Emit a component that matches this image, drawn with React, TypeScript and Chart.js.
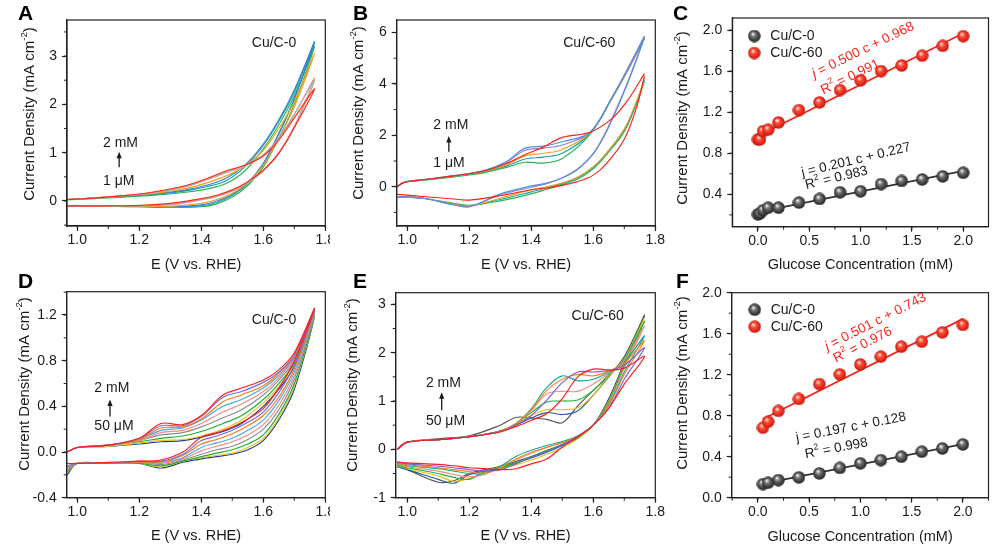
import React, { useEffect, useRef } from "react";
import { Chart, registerables } from "chart.js";
Chart.register(...registerables);

const FONT = '"Liberation Sans", Arial, Helvetica, sans-serif';
const INK = "#1a1a1a";

// ---------------- Panel A (Cu/C-0, 1 µM – 2 mM) ----------------
const A_E_FWD = [0.967, 1.05, 1.15, 1.25, 1.35, 1.42, 1.48, 1.54, 1.6, 1.65, 1.7, 1.765];
const A_E_REV = [1.765, 1.7, 1.65, 1.6, 1.55, 1.5, 1.45, 1.4, 1.3, 1.2, 1.1, 0.967];
const A_J_FWD = [
  [0.02, 0.05, 0.08, 0.12, 0.18, 0.25, 0.36, 0.62, 1.08, 1.58, 2.18, 3.2],
  [0.03, 0.06, 0.09, 0.14, 0.21, 0.3, 0.42, 0.7, 1.15, 1.65, 2.25, 3.3],
  [0.03, 0.06, 0.1, 0.15, 0.23, 0.33, 0.47, 0.74, 1.18, 1.68, 2.3, 3.28],
  [0.03, 0.06, 0.1, 0.16, 0.26, 0.38, 0.52, 0.72, 1.05, 1.5, 2.05, 3.05],
  [0.03, 0.06, 0.11, 0.18, 0.3, 0.44, 0.58, 0.72, 0.95, 1.28, 1.78, 2.55],
  [0.03, 0.06, 0.11, 0.18, 0.3, 0.45, 0.6, 0.74, 0.96, 1.3, 1.8, 2.5],
  [0.03, 0.06, 0.11, 0.19, 0.32, 0.47, 0.62, 0.74, 0.93, 1.26, 1.72, 2.32],
];
const A_J_REV = [
  [3.2, 2.0, 1.3, 0.7, 0.32, 0.08, -0.06, -0.12, -0.13, -0.12, -0.11, -0.1],
  [3.3, 2.1, 1.38, 0.76, 0.36, 0.12, -0.03, -0.1, -0.12, -0.12, -0.11, -0.1],
  [3.28, 2.12, 1.4, 0.78, 0.38, 0.14, 0.0, -0.08, -0.12, -0.11, -0.1, -0.1],
  [3.05, 1.95, 1.3, 0.74, 0.38, 0.16, 0.03, -0.05, -0.11, -0.11, -0.1, -0.1],
  [2.55, 1.55, 1.0, 0.62, 0.38, 0.2, 0.09, 0.02, -0.08, -0.1, -0.1, -0.1],
  [2.5, 1.52, 0.98, 0.62, 0.38, 0.21, 0.1, 0.03, -0.07, -0.1, -0.1, -0.1],
  [2.32, 1.52, 0.99, 0.64, 0.4, 0.23, 0.12, 0.05, -0.05, -0.09, -0.1, -0.1],
];

// ---------------- Panel B (Cu/C-60, 1 µM – 2 mM) ----------------
const B_E_FWD = [0.967, 0.99, 1.05, 1.15, 1.25, 1.32, 1.38, 1.44, 1.5, 1.59, 1.66, 1.71, 1.765];
const B_E_REV = [1.765, 1.74, 1.7, 1.643, 1.6, 1.55, 1.5, 1.45, 1.4, 1.3, 1.2, 1.15, 1.05, 0.967];
const B_J_FWD = [
  [0.0, 0.17, 0.25, 0.38, 0.55, 0.75, 0.95, 0.92, 1.1, 2.05, 3.42, 4.5, 5.8],
  [0.0, 0.17, 0.26, 0.4, 0.58, 0.8, 1.08, 1.15, 1.3, 2.08, 3.45, 4.55, 5.85],
  [0.0, 0.17, 0.26, 0.41, 0.6, 0.85, 1.2, 1.3, 1.45, 2.1, 3.45, 4.5, 5.75],
  [0.0, 0.17, 0.27, 0.43, 0.63, 0.95, 1.42, 1.5, 1.62, 2.12, 3.48, 4.58, 5.85],
  [0.0, 0.17, 0.27, 0.43, 0.64, 0.98, 1.5, 1.58, 1.75, 2.12, 3.45, 4.52, 5.8],
  [0.0, 0.17, 0.27, 0.42, 0.62, 0.9, 1.25, 1.55, 1.92, 2.12, 2.65, 3.35, 4.4],
];
const B_J_REV = [
  [4.1, 3.25, 2.15, 1.25, 0.7, 0.3, 0.08, -0.1, -0.28, -0.55, -0.72, -0.65, -0.45, -0.4],
  [4.15, 3.3, 2.2, 1.3, 0.75, 0.35, 0.12, -0.05, -0.2, -0.5, -0.75, -0.68, -0.45, -0.4],
  [4.2, 3.35, 2.25, 1.32, 0.78, 0.38, 0.15, 0.0, -0.12, -0.45, -0.76, -0.68, -0.45, -0.38],
  [5.85, 5.0, 3.75, 2.2, 1.3, 0.7, 0.35, 0.12, -0.02, -0.32, -0.78, -0.7, -0.45, -0.38],
  [5.8, 4.95, 3.7, 2.15, 1.28, 0.68, 0.34, 0.14, 0.03, -0.28, -0.78, -0.7, -0.45, -0.38],
  [4.3, 3.1, 1.85, 0.91, 0.45, 0.2, 0.05, -0.05, -0.12, -0.35, -0.52, -0.48, -0.38, -0.3],
];

// ---------------- Panel C (calibration, 1 µM – 2 mM) ----------------
const C_CONC = [0, 0.02, 0.05, 0.1, 0.2, 0.4, 0.6, 0.8, 1.0, 1.2, 1.4, 1.6, 1.8, 2.0];
const C_CU0 = [0.205, 0.215, 0.245, 0.27, 0.27, 0.32, 0.355, 0.42, 0.43, 0.5, 0.53, 0.545, 0.575, 0.61];
const C_CU60 = [0.935, 0.935, 1.015, 1.03, 1.1, 1.22, 1.295, 1.415, 1.51, 1.6, 1.655, 1.75, 1.845, 1.94];
const C_FIT_X = [0, 2.0];
const C_FIT_CU0 = [0.227, 0.629];
const C_FIT_CU60 = [0.968, 1.968];

// ---------------- Panel D (Cu/C-0, 50 µM – 2 mM) ----------------
const D_E_FWD = [0.967, 1.0, 1.1, 1.2, 1.27, 1.34, 1.4, 1.47, 1.53, 1.6, 1.65, 1.7, 1.765];
const D_E_REV = [1.765, 1.7, 1.65, 1.6, 1.55, 1.5, 1.45, 1.4, 1.34, 1.27, 1.2, 1.1, 1.0, 0.967];
const D_J_FWD = [
  [0.0, 0.04, 0.05, 0.07, 0.09, 0.1, 0.13, 0.18, 0.25, 0.4, 0.55, 0.75, 1.2],
  [0.0, 0.04, 0.05, 0.08, 0.1, 0.11, 0.14, 0.2, 0.28, 0.43, 0.57, 0.77, 1.21],
  [0.0, 0.04, 0.06, 0.09, 0.12, 0.14, 0.18, 0.25, 0.32, 0.46, 0.6, 0.78, 1.21],
  [0.0, 0.04, 0.06, 0.1, 0.15, 0.17, 0.22, 0.3, 0.37, 0.5, 0.63, 0.8, 1.22],
  [0.0, 0.04, 0.06, 0.1, 0.17, 0.19, 0.25, 0.35, 0.42, 0.53, 0.65, 0.82, 1.23],
  [0.0, 0.04, 0.06, 0.11, 0.19, 0.21, 0.28, 0.4, 0.46, 0.56, 0.67, 0.83, 1.23],
  [0.0, 0.04, 0.06, 0.11, 0.21, 0.22, 0.29, 0.44, 0.5, 0.58, 0.69, 0.84, 1.24],
  [0.0, 0.04, 0.06, 0.12, 0.23, 0.23, 0.31, 0.48, 0.53, 0.61, 0.7, 0.85, 1.25],
  [0.0, 0.04, 0.06, 0.12, 0.25, 0.24, 0.32, 0.5, 0.56, 0.63, 0.72, 0.87, 1.26],
];
const D_J_REV = [
  [1.2, 0.55, 0.28, 0.1, 0.02, -0.02, -0.04, -0.06, -0.09, -0.14, -0.1, -0.1, -0.1, -0.2],
  [1.21, 0.58, 0.3, 0.12, 0.04, -0.01, -0.03, -0.05, -0.08, -0.13, -0.1, -0.1, -0.1, -0.18],
  [1.21, 0.6, 0.33, 0.15, 0.07, 0.02, -0.01, -0.04, -0.08, -0.12, -0.1, -0.1, -0.1, -0.17],
  [1.22, 0.64, 0.37, 0.2, 0.11, 0.05, 0.02, -0.02, -0.07, -0.11, -0.09, -0.1, -0.1, -0.16],
  [1.23, 0.67, 0.41, 0.24, 0.15, 0.09, 0.05, 0.01, -0.06, -0.1, -0.09, -0.1, -0.1, -0.15],
  [1.23, 0.7, 0.45, 0.28, 0.19, 0.12, 0.08, 0.04, -0.05, -0.09, -0.09, -0.1, -0.1, -0.14],
  [1.24, 0.73, 0.48, 0.32, 0.23, 0.16, 0.11, 0.07, -0.03, -0.09, -0.09, -0.1, -0.1, -0.13],
  [1.25, 0.76, 0.52, 0.35, 0.26, 0.19, 0.14, 0.1, -0.02, -0.08, -0.08, -0.1, -0.1, -0.12],
  [1.26, 0.8, 0.56, 0.38, 0.29, 0.22, 0.17, 0.13, 0.0, -0.07, -0.08, -0.09, -0.1, -0.1],
];

// ---------------- Panel E (Cu/C-60, 50 µM – 2 mM) ----------------
const E_E_FWD = [0.967, 1.0, 1.1, 1.2, 1.3, 1.35, 1.4, 1.45, 1.5, 1.55, 1.6, 1.65, 1.7, 1.765];
const E_E_REV = [1.765, 1.7, 1.65, 1.6, 1.55, 1.5, 1.45, 1.4, 1.35, 1.3, 1.25, 1.2, 1.15, 1.1, 1.0, 0.967];
const E_J_FWD = [
  [0.0, 0.15, 0.22, 0.28, 0.5, 0.66, 0.65, 0.62, 0.55, 0.9, 1.22, 1.52, 1.92, 2.78],
  [0.0, 0.15, 0.2, 0.26, 0.38, 0.5, 0.65, 0.76, 0.72, 0.8, 1.12, 1.5, 1.9, 2.75],
  [0.0, 0.15, 0.2, 0.26, 0.38, 0.52, 0.7, 0.82, 0.82, 0.86, 1.12, 1.52, 1.88, 2.72],
  [0.0, 0.15, 0.2, 0.26, 0.38, 0.53, 0.76, 0.98, 1.0, 1.02, 1.22, 1.55, 1.86, 2.65],
  [0.0, 0.15, 0.2, 0.26, 0.38, 0.53, 0.8, 1.15, 1.2, 1.2, 1.35, 1.58, 1.84, 2.55],
  [0.0, 0.15, 0.2, 0.26, 0.38, 0.53, 0.84, 1.28, 1.52, 1.42, 1.45, 1.6, 1.8, 2.35],
  [0.0, 0.15, 0.2, 0.26, 0.38, 0.53, 0.82, 1.22, 1.45, 1.55, 1.52, 1.62, 1.78, 2.25],
  [0.0, 0.15, 0.2, 0.26, 0.37, 0.5, 0.7, 1.02, 1.38, 1.6, 1.6, 1.63, 1.74, 2.1],
  [0.0, 0.15, 0.2, 0.26, 0.36, 0.47, 0.6, 0.74, 1.05, 1.5, 1.66, 1.64, 1.68, 1.92],
];
const E_J_REV = [
  [2.78, 1.8, 1.05, 0.5, 0.25, 0.1, -0.03, -0.15, -0.25, -0.35, -0.42, -0.5, -0.65, -0.68, -0.42, -0.35],
  [2.75, 1.78, 1.03, 0.5, 0.24, 0.08, -0.06, -0.18, -0.28, -0.38, -0.45, -0.52, -0.7, -0.62, -0.42, -0.36],
  [2.72, 1.75, 1.0, 0.5, 0.22, 0.04, -0.1, -0.22, -0.32, -0.4, -0.48, -0.6, -0.66, -0.55, -0.4, -0.34],
  [2.65, 1.72, 0.98, 0.5, 0.24, 0.1, -0.02, -0.15, -0.28, -0.38, -0.46, -0.62, -0.58, -0.5, -0.38, -0.32],
  [2.55, 1.68, 0.95, 0.5, 0.26, 0.14, 0.04, -0.08, -0.22, -0.35, -0.52, -0.57, -0.52, -0.45, -0.36, -0.3],
  [2.35, 1.6, 0.92, 0.5, 0.28, 0.16, 0.08, -0.02, -0.15, -0.35, -0.5, -0.5, -0.45, -0.4, -0.34, -0.29],
  [2.25, 1.55, 0.9, 0.5, 0.27, 0.14, 0.04, -0.06, -0.2, -0.38, -0.5, -0.46, -0.42, -0.38, -0.32, -0.28],
  [2.1, 1.45, 0.85, 0.5, 0.27, 0.1, -0.04, -0.16, -0.3, -0.42, -0.45, -0.42, -0.38, -0.35, -0.3, -0.27],
  [1.92, 1.35, 0.85, 0.5, 0.26, 0.05, -0.2, -0.3, -0.4, -0.42, -0.4, -0.38, -0.34, -0.31, -0.28, -0.26],
];

// ---------------- Panel F (calibration, 50 µM – 2 mM) ----------------
const F_CONC = [0.05, 0.1, 0.2, 0.4, 0.6, 0.8, 1.0, 1.2, 1.4, 1.6, 1.8, 2.0];
const F_CU0 = [0.133, 0.146, 0.172, 0.198, 0.237, 0.29, 0.335, 0.367, 0.4, 0.449, 0.48, 0.52];
const F_CU60 = [0.683, 0.741, 0.846, 0.963, 1.109, 1.203, 1.3, 1.376, 1.473, 1.522, 1.613, 1.685];
const F_FIT_X = [0.05, 2.0];
const F_FIT_CU0 = [0.138, 0.522];
const F_FIT_CU60 = [0.768, 1.745];

// ---------------- styles ----------------
const A_COLORS = ["#2fb34c", "#14a6a6", "#3b7fd6", "#f0a020", "#f2a0a0", "#a8a8a8", "#ff2a14"];
const B_COLORS = ["#2cb54a", "#17a2b0", "#f0a020", "#8b7fd8", "#5b8fd8", "#ff2010"];
const D_COLORS = ["#1c3f94", "#e6c619", "#1fae3c", "#8c8c8c", "#f08a8a", "#4aa8e8", "#f07c18", "#7a6bd0", "#ff1e1e"];
const E_COLORS = ["#555555", "#1f5fa8", "#e3c20a", "#1fb03a", "#f08c8c", "#16a6a0", "#f28a1a", "#7b5cd6", "#ff1a1a"];
const RED = "#f3261a";
const DARK = "#333333";

type Run = { t: string; it?: boolean; sup?: boolean };

function drawRuns(ctx: CanvasRenderingContext2D, runs: Run[], cx: number, cy: number, angle: number, size: number, color: string, align: "center" | "left" = "center") {
  ctx.save();
  ctx.translate(cx, cy);
  ctx.rotate((angle * Math.PI) / 180);
  ctx.fillStyle = color;
  ctx.textBaseline = "middle";
  ctx.textAlign = "left";
  const fontFor = (r: Run) => `${r.it ? "italic " : ""}${r.sup ? size * 0.65 : size}px ${FONT}`;
  let total = 0;
  for (const r of runs) {
    ctx.font = fontFor(r);
    total += ctx.measureText(r.t).width;
  }
  let x = align === "center" ? -total / 2 : 0;
  for (const r of runs) {
    ctx.font = fontFor(r);
    ctx.fillText(r.t, x, r.sup ? -size * 0.38 : 0);
    x += ctx.measureText(r.t).width;
  }
  ctx.restore();
}

function sphere(kind: "black" | "red"): HTMLCanvasElement {
  const s = 13;
  const c = document.createElement("canvas");
  c.width = s;
  c.height = s;
  const g = c.getContext("2d")!;
  const grd = g.createRadialGradient(s * 0.38, s * 0.33, 0.4, s / 2, s / 2, s / 2);
  if (kind === "black") {
    grd.addColorStop(0, "#eeeeee");
    grd.addColorStop(0.35, "#707070");
    grd.addColorStop(1, "#1c1c1c");
  } else {
    grd.addColorStop(0, "#ffe0d8");
    grd.addColorStop(0.35, "#ff4a38");
    grd.addColorStop(1, "#c41406");
  }
  g.fillStyle = grd;
  g.beginPath();
  g.arc(s / 2, s / 2, s / 2 - 0.3, 0, Math.PI * 2);
  g.fill();
  return c;
}

type TextItem = { x: number; y: number; runs: Run[]; color?: string; size?: number; angle?: number; align?: "center" | "left" };
type Cfg = {
  left: number; top: number; w: number; h: number;
  padTop: number; padRight: number; yAxisW: number; xAxisH: number;
  xMin: number; xMax: number; xStep: number; xMinor: number; xDec: number;
  yMin: number; yMax: number; yStep: number; yMinor: number; yDec: number;
  letter: string; letterX: number; letterY: number;
  yTitle: [number, number]; xTitleY: number; xTitle: string;
  texts: TextItem[];
  arrows: { x: number; y1: number; y2: number }[];
  kind: "cv" | "cal";
  cv?: { eF: number[]; eR: number[]; jF: number[][]; jR: number[][]; colors: string[]; gap: boolean };
  cal?: { conc: number[]; cu0: number[]; cu60: number[]; fitX: number[]; fit0: number[]; fit60: number[]; leg: [number, number] };
};

const CV_X = "E (V vs. RHE)";
const CAL_X = "Glucose Concentration (mM)";

const PANELS: Cfg[] = [
  {
    left: 0, top: 0, w: 330, h: 280, padTop: 20, padRight: 4.7, yAxisW: 67, xAxisH: 54,
    xMin: 0.9668, xMax: 1.8, xStep: 0.2, xMinor: 0.1, xDec: 1,
    yMin: -0.518, yMax: 3.747, yStep: 1, yMinor: 0.5, yDec: 0,
    letter: "A", letterX: 18, letterY: 20, yTitle: [30, 114], xTitleY: 265, xTitle: CV_X,
    texts: [
      { x: 1.563, y: 3.27, runs: [{ t: "Cu/C-0" }], align: "left" },
      { x: 1.083, y: 1.2, runs: [{ t: "2 mM" }], align: "left" },
      { x: 1.083, y: 0.41, runs: [{ t: "1 μM" }], align: "left" },
    ],
    arrows: [{ x: 1.135, y1: 0.7, y2: 1.02 }],
    kind: "cv", cv: { eF: A_E_FWD, eR: A_E_REV, jF: A_J_FWD, jR: A_J_REV, colors: A_COLORS, gap: false },
  },
  {
    left: 330, top: 0, w: 340, h: 280, padTop: 20, padRight: 14.7, yAxisW: 66.7, xAxisH: 54,
    xMin: 0.9658, xMax: 1.8, xStep: 0.2, xMinor: 0.1, xDec: 1,
    yMin: -1.529, yMax: 6.486, yStep: 2, yMinor: 1, yDec: 0,
    letter: "B", letterX: 23, letterY: 20, yTitle: [29, 113], xTitleY: 265, xTitle: CV_X,
    texts: [
      { x: 1.503, y: 5.58, runs: [{ t: "Cu/C-60" }], align: "left" },
      { x: 1.084, y: 2.4, runs: [{ t: "2 mM" }], align: "left" },
      { x: 1.084, y: 0.93, runs: [{ t: "1 μM" }], align: "left" },
    ],
    arrows: [{ x: 1.134, y1: 1.36, y2: 1.97 }],
    kind: "cv", cv: { eF: B_E_FWD, eR: B_E_REV, jF: B_J_FWD, jR: B_J_REV, colors: B_COLORS, gap: true },
  },
  {
    left: 660, top: 0, w: 336, h: 280, padTop: 18, padRight: 3, yAxisW: 72.3, xAxisH: 53.3,
    xMin: -0.2495, xMax: 2.246, xStep: 0.5, xMinor: 0.25, xDec: 1,
    yMin: 0.085, yMax: 2.117, yStep: 0.4, yMinor: 0.2, yDec: 1,
    letter: "C", letterX: 13, letterY: 20, yTitle: [23, 118], xTitleY: 265, xTitle: CAL_X,
    texts: [
      { x: 1.024, y: 1.805, runs: [{ t: "j", it: true }, { t: " = 0.500 c + 0.968" }], color: RED, angle: -26, size: 13.5 },
      { x: 0.9, y: 1.542, runs: [{ t: "R" }, { t: "2", sup: true }, { t: " = 0.991" }], color: RED, angle: -26, size: 13.5 },
      { x: 0.955, y: 0.734, runs: [{ t: "j" }, { t: " = 0.201 c + 0.227" }], color: INK, angle: -13.5, size: 13.5 },
      { x: 0.765, y: 0.559, runs: [{ t: "R" }, { t: "2", sup: true }, { t: " = 0.983" }], color: INK, angle: -13.5, size: 13.5 },
    ],
    arrows: [],
    kind: "cal", cal: { conc: C_CONC, cu0: C_CU0, cu60: C_CU60, fitX: C_FIT_X, fit0: C_FIT_CU0, fit60: C_FIT_CU60, leg: [22, 18] },
  },
  {
    left: 0, top: 270, w: 330, h: 277, padTop: 21.7, padRight: 4.7, yAxisW: 66.7, xAxisH: 49.3,
    xMin: 0.9658, xMax: 1.8, xStep: 0.2, xMinor: 0.1, xDec: 1,
    yMin: -0.4, yMax: 1.404, yStep: 0.4, yMinor: 0.2, yDec: 1,
    letter: "D", letterX: 18, letterY: 18, yTitle: [25, 114], xTitleY: 266, xTitle: CV_X,
    texts: [
      { x: 1.563, y: 1.156, runs: [{ t: "Cu/C-0" }], align: "left" },
      { x: 1.055, y: 0.558, runs: [{ t: "2 mM" }], align: "left" },
      { x: 1.055, y: 0.23, runs: [{ t: "50 μM" }], align: "left" },
    ],
    arrows: [{ x: 1.1055, y1: 0.31, y2: 0.46 }],
    kind: "cv", cv: { eF: D_E_FWD, eR: D_E_REV, jF: D_J_FWD, jR: D_J_REV, colors: D_COLORS, gap: false },
  },
  {
    left: 330, top: 270, w: 340, h: 277, padTop: 22.7, padRight: 14.7, yAxisW: 65.7, xAxisH: 49.3,
    xMin: 0.9626, xMax: 1.8, xStep: 0.2, xMinor: 0.1, xDec: 1,
    yMin: -1, yMax: 3.24, yStep: 1, yMinor: 0.5, yDec: 0,
    letter: "E", letterX: 23, letterY: 18, yTitle: [23, 115], xTitleY: 266, xTitle: CV_X,
    texts: [
      { x: 1.53, y: 2.745, runs: [{ t: "Cu/C-60" }], align: "left" },
      { x: 1.06, y: 1.363, runs: [{ t: "2 mM" }], align: "left" },
      { x: 1.06, y: 0.58, runs: [{ t: "50 μM" }], align: "left" },
    ],
    arrows: [{ x: 1.111, y1: 0.81, y2: 1.18 }],
    kind: "cv", cv: { eF: E_E_FWD, eR: E_E_REV, jF: E_J_FWD, jR: E_J_REV, colors: E_COLORS, gap: false },
  },
  {
    left: 660, top: 270, w: 336, h: 277, padTop: 22.7, padRight: 3, yAxisW: 71.7, xAxisH: 49.3,
    xMin: -0.255, xMax: 2.25, xStep: 0.5, xMinor: 0.25, xDec: 1,
    yMin: 0, yMax: 2.0, yStep: 0.4, yMinor: 0.2, yDec: 1,
    letter: "F", letterX: 16, letterY: 18, yTitle: [23, 113], xTitleY: 267, xTitle: CAL_X,
    texts: [
      { x: 1.148, y: 1.714, runs: [{ t: "j", it: true }, { t: " = 0.501 c + 0.743" }], color: RED, angle: -27, size: 13.5 },
      { x: 1.023, y: 1.49, runs: [{ t: "R" }, { t: "2", sup: true }, { t: " = 0.976" }], color: RED, angle: -27, size: 13.5 },
      { x: 0.908, y: 0.686, runs: [{ t: "j" }, { t: " = 0.197 c + 0.128" }], color: INK, angle: -11, size: 13.5 },
      { x: 0.765, y: 0.48, runs: [{ t: "R" }, { t: "2", sup: true }, { t: " = 0.998" }], color: INK, angle: -11, size: 13.5 },
    ],
    arrows: [],
    kind: "cal", cal: { conc: F_CONC, cu0: F_CU0, cu60: F_CU60, fitX: F_FIT_X, fit0: F_FIT_CU0, fit60: F_FIT_CU60, leg: [23, 17] },
  },
];

function cvDatasets(cv: NonNullable<Cfg["cv"]>) {
  const ds = cv.jF.map((row, i) => {
    const pts: { x: number; y: number | null }[] = cv.eF.map((e, k) => ({ x: e, y: row[k] }));
    if (cv.gap) pts.push({ x: cv.eR[0], y: null });
    cv.eR.forEach((e, k) => {
      if (k === 0 && !cv.gap) return;
      pts.push({ x: e, y: cv.jR[i][k] });
    });
    return {
      data: pts,
      borderColor: cv.colors[i],
      backgroundColor: cv.colors[i],
      borderWidth: 1.15,
      pointRadius: 0,
      showLine: true,
      tension: 0.35,
      spanGaps: false,
    };
  });
  return ds.reverse();
}

function calDatasets(cal: NonNullable<Cfg["cal"]>, bImg: HTMLCanvasElement, rImg: HTMLCanvasElement) {
  return [
    { data: cal.conc.map((c, i) => ({ x: c, y: cal.cu60[i] })), pointStyle: rImg, pointRadius: 6.5, showLine: false },
    { data: cal.conc.map((c, i) => ({ x: c, y: cal.cu0[i] })), pointStyle: bImg, pointRadius: 6.5, showLine: false },
    { data: cal.fitX.map((x, i) => ({ x, y: cal.fit60[i] })), showLine: true, borderColor: RED, borderWidth: 1.8, pointRadius: 0 },
    { data: cal.fitX.map((x, i) => ({ x, y: cal.fit0[i] })), showLine: true, borderColor: DARK, borderWidth: 1.8, pointRadius: 0 },
  ];
}

function decor(cfg: Cfg, bImg: HTMLCanvasElement, rImg: HTMLCanvasElement) {
  return {
    id: "decor",
    afterDraw(chart: any) {
      const { ctx, chartArea: ca, scales } = chart;
      const sx = scales.x;
      const sy = scales.y;
      ctx.save();
      ctx.strokeStyle = "#222";
      ctx.lineWidth = 1.2;
      ctx.strokeRect(ca.left, ca.top, ca.right - ca.left, ca.bottom - ca.top);
      ctx.lineWidth = 1;
      ctx.beginPath();
      for (let k = Math.ceil(cfg.xMin / cfg.xMinor - 1e-6); k * cfg.xMinor <= cfg.xMax + 1e-6; k++) {
        const px = sx.getPixelForValue(k * cfg.xMinor);
        ctx.moveTo(px, ca.bottom);
        ctx.lineTo(px, ca.bottom + 3);
      }
      for (let k = Math.ceil(cfg.yMin / cfg.yMinor - 1e-6); k * cfg.yMinor <= cfg.yMax + 1e-6; k++) {
        const py = sy.getPixelForValue(k * cfg.yMinor);
        ctx.moveTo(ca.left, py);
        ctx.lineTo(ca.left - 3, py);
      }
      ctx.stroke();
      ctx.fillStyle = "#000";
      ctx.font = `bold 21px ${FONT}`;
      ctx.textAlign = "left";
      ctx.textBaseline = "alphabetic";
      ctx.fillText(cfg.letter, cfg.letterX, cfg.letterY);
      drawRuns(ctx, [{ t: "Current Density (mA cm" }, { t: "-2", sup: true }, { t: ")" }], cfg.yTitle[0], cfg.yTitle[1], -90, 15, INK);
      drawRuns(ctx, [{ t: cfg.xTitle }], (ca.left + ca.right) / 2, cfg.xTitleY, 0, 14.5, INK);
      for (const t of cfg.texts) {
        drawRuns(ctx, t.runs, sx.getPixelForValue(t.x), sy.getPixelForValue(t.y), t.angle || 0, t.size || 14, t.color || INK, t.align || "center");
      }
      for (const a of cfg.arrows) {
        const px = sx.getPixelForValue(a.x);
        const p1 = sy.getPixelForValue(a.y1);
        const p2 = sy.getPixelForValue(a.y2);
        ctx.strokeStyle = INK;
        ctx.fillStyle = INK;
        ctx.lineWidth = 1.3;
        ctx.beginPath();
        ctx.moveTo(px, p1);
        ctx.lineTo(px, p2 + 5);
        ctx.stroke();
        ctx.beginPath();
        ctx.moveTo(px, p2);
        ctx.lineTo(px - 2.6, p2 + 6.5);
        ctx.lineTo(px + 2.6, p2 + 6.5);
        ctx.closePath();
        ctx.fill();
      }
      if (cfg.cal) {
        const [lx, ly] = cfg.cal.leg;
        const items: [HTMLCanvasElement, string, number][] = [
          [bImg, "Cu/C-0", ly],
          [rImg, "Cu/C-60", ly + 17],
        ];
        for (const [img, label, dy] of items) {
          ctx.drawImage(img, ca.left + lx - img.width / 2, ca.top + dy - img.height / 2);
          drawRuns(ctx, [{ t: label }], ca.left + lx + 16, ca.top + dy, 0, 14, INK, "left");
        }
      }
      ctx.restore();
    },
  };
}

function buildConfig(cfg: Cfg): any {
  const bImg = sphere("black");
  const rImg = sphere("red");
  const datasets = cfg.kind === "cv" ? cvDatasets(cfg.cv!) : calDatasets(cfg.cal!, bImg, rImg);
  const tickFont = { family: FONT, size: 14 };
  return {
    type: "scatter",
    data: { datasets },
    options: {
      responsive: false,
      maintainAspectRatio: false,
      animation: false,
      events: [],
      layout: { padding: { left: 0, top: cfg.padTop, right: cfg.padRight, bottom: 0 } },
      plugins: { legend: { display: false }, tooltip: { enabled: false }, title: { display: false } },
      scales: {
        x: {
          type: "linear",
          min: cfg.xMin,
          max: cfg.xMax,
          afterFit: (s: any) => {
            s.height = cfg.xAxisH;
            s.paddingLeft = 0;
            s.paddingRight = 0;
          },
          ticks: {
            stepSize: cfg.xStep,
            includeBounds: false,
            autoSkip: false,
            maxRotation: 0,
            minRotation: 0,
            padding: 1,
            color: INK,
            font: tickFont,
            callback: (v: any) => Number(v).toFixed(cfg.xDec),
          },
          grid: { drawOnChartArea: false, drawTicks: true, tickLength: 5, tickColor: "#222", tickWidth: 1.2 },
          border: { display: true, color: "#222", width: 1.2 },
          title: { display: false },
        },
        y: {
          type: "linear",
          min: cfg.yMin,
          max: cfg.yMax,
          afterFit: (s: any) => {
            s.width = cfg.yAxisW;
            s.paddingTop = 0;
            s.paddingBottom = 0;
          },
          ticks: {
            stepSize: cfg.yStep,
            includeBounds: false,
            autoSkip: false,
            padding: 5,
            color: INK,
            font: tickFont,
            callback: (v: any) => Number(v).toFixed(cfg.yDec),
          },
          grid: { drawOnChartArea: false, drawTicks: true, tickLength: 5, tickColor: "#222", tickWidth: 1.2 },
          border: { display: true, color: "#222", width: 1.2 },
          title: { display: false },
        },
      },
    },
    plugins: [decor(cfg, bImg, rImg)],
  };
}

function Panel({ cfg }: { cfg: Cfg }) {
  const ref = useRef<HTMLCanvasElement>(null);
  useEffect(() => {
    const chart = new Chart(ref.current!, buildConfig(cfg));
    return () => chart.destroy();
  }, [cfg]);
  return (
    <canvas
      ref={ref}
      width={cfg.w}
      height={cfg.h}
      style={{ position: "absolute", left: cfg.left, top: cfg.top, width: cfg.w, height: cfg.h }}
    />
  );
}

export default function App() {
  return (
    <div
      style={{
        position: "fixed",
        left: 0,
        top: 0,
        width: 996,
        height: 547,
        background: "#ffffff",
        overflow: "hidden",
      }}
    >
      {PANELS.map((p) => (
        <Panel key={p.letter} cfg={p} />
      ))}
    </div>
  );
}
